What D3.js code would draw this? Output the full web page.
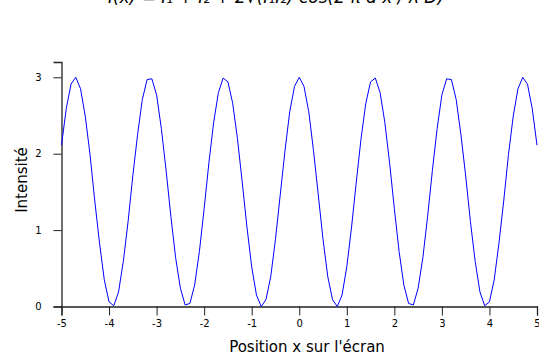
<!DOCTYPE html>
<html>
<head>
<meta charset="utf-8">
<script src="https://cdn.jsdelivr.net/npm/d3@7"></script>
<style>
  html, body { margin: 0; padding: 0; background: #fff; }
  svg { display: block; }
  text { font-family: "DejaVu Sans", sans-serif; }
</style>
</head>
<body>
<svg id="chart" width="539" height="357"></svg>
<script>
const positions = [-5.0,-4.9,-4.8,-4.7,-4.6,-4.5,-4.4,-4.3,-4.2,-4.1,-4.0,-3.9,-3.8,-3.7,-3.6,-3.5,-3.4,-3.3,-3.2,-3.1,
  -3.0,-2.9,-2.8,-2.7,-2.6,-2.5,-2.4,-2.3,-2.2,-2.1,-2.0,-1.9,-1.8,-1.7,-1.6,-1.5,-1.4,-1.3,-1.2,-1.1,
  -1.0,-0.9,-0.8,-0.7,-0.6,-0.5,-0.4,-0.3,-0.2,-0.1,0.0,0.1,0.2,0.3,0.4,0.5,0.6,0.7,0.8,0.9,
  1.0,1.1,1.2,1.3,1.4,1.5,1.6,1.7,1.8,1.9,2.0,2.1,2.2,2.3,2.4,2.5,2.6,2.7,2.8,2.9,
  3.0,3.1,3.2,3.3,3.4,3.5,3.6,3.7,3.8,3.9,4.0,4.1,4.2,4.3,4.4,4.5,4.6,4.7,4.8,4.9,5.0];
const intensity = [2.11,2.59,2.91,3.00,2.85,2.49,1.99,1.38,0.83,0.35,0.06,0.01,0.19,0.59,1.11,1.71,2.25,2.71,2.97,2.98,
  2.77,2.33,1.78,1.18,0.64,0.24,0.02,0.04,0.28,0.72,1.28,1.88,2.41,2.80,2.99,2.94,2.66,2.20,1.63,1.04,
  0.52,0.15,0.00,0.09,0.39,0.88,1.46,2.04,2.55,2.88,3.00,2.88,2.55,2.04,1.46,0.88,0.39,0.09,0.00,0.15,
  0.52,1.04,1.63,2.20,2.66,2.94,2.99,2.80,2.41,1.88,1.28,0.72,0.28,0.04,0.02,0.24,0.64,1.18,1.78,2.33,
  2.77,2.98,2.97,2.71,2.25,1.71,1.11,0.59,0.19,0.01,0.06,0.35,0.83,1.38,1.99,2.49,2.85,3.00,2.91,2.59,2.11];
const xTicks = [-5,-4,-3,-2,-1,0,1,2,3,4,5];
const yTicks = [0,1,2,3];
const xDomain = [-5, 5];
const yDomain = [0, 3.2];
const titleText = "I(x) = I\u2081 + I\u2082 + 2\u221A(I\u2081I\u2082)\u00B7cos(2\u00B7\u03C0\u00B7d\u00B7x / \u03BB\u00B7D)";
const xLabel = "Position x sur l'\u00E9cran";
const yLabel = "Intensit\u00E9";

const svg = d3.select("#chart");
const x = d3.scaleLinear().domain(xDomain).range([61.5, 537]);
const y = d3.scaleLinear().domain(yDomain).range([306.5, 62]);

// minor ticks (quarter steps)
const xMinor = d3.range(-5, 5.001, 0.25).filter(v => Math.abs(v - Math.round(v)) > 1e-6);
const yMinor = d3.range(0, 3.2, 0.25).filter(v => Math.abs(v - Math.round(v)) > 1e-6);

const axisColor = "#222";

// X axis
const gx = svg.append("g").attr("transform", `translate(0,${y(0)})`);
gx.call(d3.axisBottom(x).tickValues(xMinor).tickSize(5).tickFormat(""));
gx.call(d3.axisBottom(x).tickValues(xTicks).tickSize(9).tickPadding(4).tickFormat(d => String(d)));
gx.selectAll(".domain").attr("stroke", axisColor).attr("stroke-width", 1.3);
gx.selectAll("line").attr("stroke", axisColor).attr("stroke-width", 1);
gx.selectAll("text").attr("font-size", 10).attr("fill", "#000");

// Y axis
const gy = svg.append("g").attr("transform", `translate(${x(-5)},0)`);
gy.call(d3.axisLeft(y).tickValues(yMinor).tickSize(4).tickFormat(""));
gy.call(d3.axisLeft(y).tickValues(yTicks).tickSize(8).tickPadding(12).tickFormat(d => String(d)));
gy.selectAll(".domain").attr("stroke", axisColor).attr("stroke-width", 1.3);
gy.selectAll("line").attr("stroke", axisColor).attr("stroke-width", 1);
gy.selectAll("text").attr("font-size", 10).attr("fill", "#000");

// Curve
const data = positions.map((p, i) => [p, intensity[i]]);
svg.append("path")
  .datum(data)
  .attr("fill", "none")
  .attr("stroke", "#0000ff")
  .attr("stroke-width", 1)
  .attr("stroke-linejoin", "round")
  .attr("d", d3.line().x(d => x(d[0])).y(d => y(d[1])));

// Axis titles
svg.append("text")
  .attr("x", 307).attr("y", 352)
  .attr("text-anchor", "middle")
  .attr("font-size", 15)
  .attr("fill", "#000")
  .text(xLabel);

svg.append("text")
  .attr("transform", "translate(27,180) rotate(-90)")
  .attr("text-anchor", "middle")
  .attr("font-size", 15)
  .attr("fill", "#000")
  .text(yLabel);

// Title (clipped at the top of the picture, as in the reference)
svg.append("text")
  .attr("x", 276).attr("y", 3)
  .attr("text-anchor", "middle")
  .attr("font-family", "'Liberation Serif', serif")
  .attr("font-style", "italic")
  .attr("font-size", 17)
  .attr("fill", "#000")
  .text(titleText);
</script>
</body>
</html>
